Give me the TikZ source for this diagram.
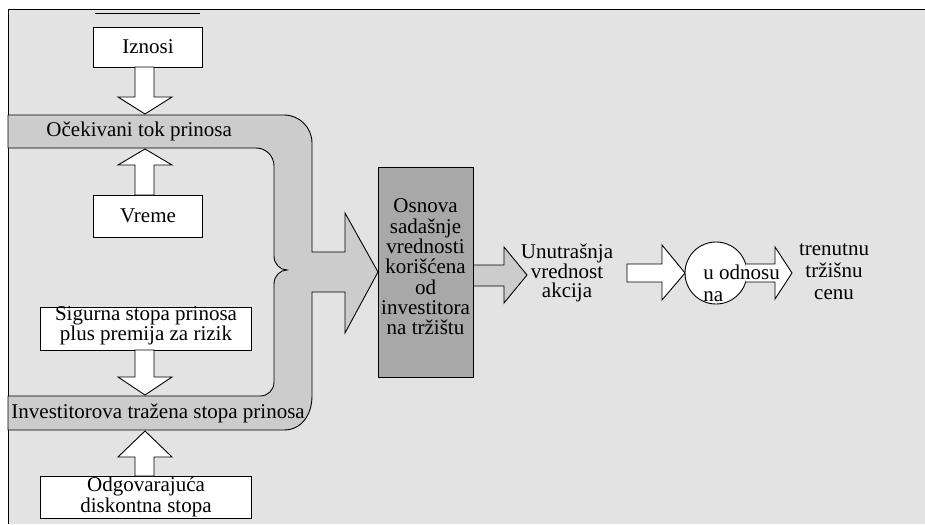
\documentclass[tikz,border=0pt]{standalone}
\usepackage{fontspec}
\setmainfont{Liberation Serif}
\newcommand\fs{\fontsize{21}{20.5}\selectfont}
\begin{document}
\begin{tikzpicture}[x=1pt,y=-1pt,
  line width=0.9pt, line join=miter,
  box/.style={draw, fill=white, inner sep=0pt},
  darkbox/.style={draw, fill=osnovagray, inner sep=0pt},
  warrow/.style={draw, fill=white},
  garrow/.style={draw, fill=bandgray},
  bandshape/.style={draw, fill=bandgray},
  lbl/.style={inner sep=0pt, align=center, font=\fs},
  lbll/.style={inner sep=0pt, align=left, font=\fs, anchor=west}]
\definecolor{bggray}{HTML}{E3E3E3}
\definecolor{bandgray}{HTML}{CCCCCC}
\definecolor{osnovagray}{HTML}{A8A8A8}
\useasboundingbox (0,0) rectangle (925,524);
% background frame
\fill[bggray] (8,9) rectangle (925,524);
\draw (8,524) -- (8,9) -- (925,9);
\draw (95,13) -- (200,13);
% gray band
\draw[bandshape] (8,115) -- (284,115) .. controls (299.5,115) and (312,127.5) .. (312,143)
  -- (312,252) -- (345,252) -- (345,213) -- (378,272) -- (345,333) -- (345,292) -- (312,292)
  -- (312,396) .. controls (312,414) and (302,430) .. (284,430) -- (8,430) -- (8,396)
  -- (260,396) .. controls (268,396) and (274,390) .. (274,382) -- (274,284)
  .. controls (274,276) and (280,270) .. (287,270) .. controls (280,270) and (274,264) .. (274,256)
  -- (274,166) .. controls (274,156) and (266,148) .. (256,148) -- (8,148) -- cycle;
\node[lbll] (tok) at (46,131) {Očekivani tok prinosa};
\node[lbll] (trazena) at (11,413) {Investitorova tražena stopa prinosa};
% white boxes
\node[box, minimum width=109pt, minimum height=40pt] (iz) at (147.5,47) {};
\node[lbl] (izt) at (148,47) {Iznosi};
\node[box, minimum width=109pt, minimum height=42pt] (vr) at (147.5,216) {};
\node[lbl] (vrt) at (148,216) {Vreme};
\node[box, minimum width=211pt, minimum height=43pt] (sig) at (145.5,328.5) {};
\node[lbl] (sigt) at (146,326) {Sigurna stopa prinosa\\plus premija za rizik};
\node[box, minimum width=211pt, minimum height=42pt] (odg) at (145.5,497) {};
\node[lbl] (odgt) at (146,497) {Odgovarajuća\\diskontna stopa};
% white block arrows (left column)
\draw[warrow] (135,67) -- (154,67) -- (154,97) -- (172,97) -- (145,114) -- (118,97) -- (135,97) -- cycle;
\draw[warrow] (135,195) -- (154,195) -- (154,165) -- (172,165) -- (145,149) -- (118,165) -- (135,165) -- cycle;
\draw[warrow] (135,350) -- (154,350) -- (154,377) -- (172,377) -- (145,395) -- (118,377) -- (135,377) -- cycle;
\draw[warrow] (135,476) -- (154,476) -- (154,457) -- (172,457) -- (145,431) -- (118,457) -- (135,457) -- cycle;
% Osnova box
\draw[garrow] (470,265) -- (504,265) -- (504,247) -- (527,275) -- (504,303) -- (504,286) -- (470,286) -- cycle;
\node[darkbox, minimum width=95pt, minimum height=210pt] (osn) at (425.5,272) {};
\node[lbl, font=\fontsize{21}{20.3}\selectfont] (osnt) at (425.5,267) {Osnova\\sadašnje\\vrednosti\\korišćena\\od\\investitora\\na tržištu};
\node[lbl, font=\fontsize{21}{19.5}\selectfont] (unut) at (567,273) {Unutrašnja\\vrednost\\akcija};
% right part
\draw[warrow] (627,264) -- (662,264) -- (662,245) -- (685,273) -- (662,300) -- (662,282) -- (627,282) -- cycle;
\node[draw, fill=white, circle, minimum size=62pt, inner sep=0pt] (cir) at (716,273) {};
\fill[white] (745.5,264) -- (775,264) -- (775,247) -- (792,273) -- (775,299) -- (775,282) -- (745.5,282) -- cycle;
\draw (745.5,264) -- (775,264) -- (775,247) -- (792,273) -- (775,299) -- (775,282) -- (745.5,282);
\node[lbll, font=\fontsize{21}{22}\selectfont] (odn) at (703,283) {u odnosu\\na};
\node[lbl, font=\fontsize{21}{22}\selectfont] (tren) at (834,272) {trenutnu\\tržišnu\\cenu};
\end{tikzpicture}
\end{document}
